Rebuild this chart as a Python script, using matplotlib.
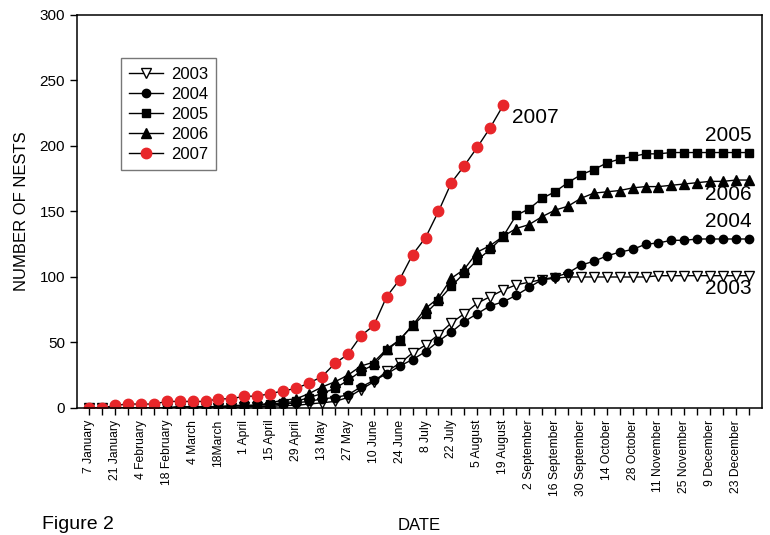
"""
Cumulative number of nests per week, 2003-2007.
"""
import matplotlib
matplotlib.use('Agg')
import matplotlib.pyplot as plt

plt.rcParams['font.family'] = ['Liberation Sans', 'DejaVu Sans']

# tick labels, one every two weeks (weeks numbered from 7 January)
date_labels = ['7 January', '21 January', '4 February', '18 February', '4 March',
               '18March', '1 April', '15 April', '29 April', '13 May', '27 May',
               '10 June', '24 June', '8 July', '22 July', '5 August', '19 August',
               '2 September', '16 September', '30 September', '14 October',
               '28 October', '11 November', '25 November', '9 December',
               '23 December']

nests_2003 = [0, 0, 0, 0, 0, 0, 0, 0, 0, 0, 0, 0, 1, 1, 1, 2, 2, 3, 4, 5,
              8, 14, 20, 28, 34, 42, 48, 56, 65, 72, 80, 85, 90, 94, 96, 98,
              99, 100, 100, 100, 100, 100, 100, 100, 101, 101, 101, 101, 101,
              101, 101, 101]
nests_2004 = [0, 0, 0, 0, 0, 0, 0, 0, 0, 0, 0, 0, 1, 1, 2, 3, 4, 5, 7, 8,
              10, 16, 21, 26, 32, 37, 43, 51, 58, 66, 72, 78, 81, 86, 92, 98,
              100, 103, 109, 112, 116, 119, 121, 125, 126, 128, 128, 129, 129,
              129, 129, 129]
nests_2005 = [0, 0, 0, 0, 0, 0, 0, 1, 1, 1, 1, 1, 2, 2, 3, 4, 5, 8, 11, 15,
              21, 28, 33, 44, 52, 63, 72, 82, 93, 103, 113, 121, 131, 147, 152,
              160, 165, 172, 178, 182, 187, 190, 192, 194, 194, 195, 195, 195,
              195, 195, 195, 195]
nests_2006 = [0, 0, 0, 0, 0, 0, 0, 1, 1, 1, 1, 2, 2, 2, 4, 6, 7, 11, 16, 20,
              25, 32, 35, 45, 52, 63, 76, 84, 99, 106, 119, 124, 131, 137, 140,
              146, 151, 154, 160, 164, 165, 166, 168, 169, 169, 170, 171, 172,
              173, 173, 174, 174]
nests_2007 = [0, 0, 2, 3, 3, 3, 5, 5, 5, 5, 7, 7, 9, 9, 11, 13, 15, 19, 24,
              34, 41, 55, 63, 85, 98, 117, 130, 150, 172, 185, 199, 214, 231]

weeks = list(range(len(nests_2003)))
weeks_2007 = list(range(len(nests_2007)))

fig = plt.figure(figsize=(7.7, 5.35), dpi=100)
ax = fig.add_axes([0.1, 0.2374, 0.8896, 0.7346])

ax.plot(weeks, nests_2003, color='black', lw=1, marker='v', ms=6.5,
        mfc='white', mec='black', mew=1, label='2003')
ax.plot(weeks, nests_2004, color='black', lw=1, marker='o', ms=6,
        mfc='black', mec='black', label='2004')
ax.plot(weeks, nests_2005, color='black', lw=1, marker='s', ms=6,
        mfc='black', mec='black', label='2005')
ax.plot(weeks, nests_2006, color='black', lw=1, marker='^', ms=6.5,
        mfc='black', mec='black', label='2006')
ax.plot(weeks_2007, nests_2007, color='black', lw=1, marker='o', ms=7.5,
        mfc='#e8262a', mec='#e8262a', label='2007')

# year labels next to the curves
ax.text(32.7, 222, '2007', fontsize=15, ha='left', va='center')
ax.text(51.2, 208, '2005', fontsize=15, ha='right', va='center')
ax.text(51.2, 163, '2006', fontsize=15, ha='right', va='center')
ax.text(51.2, 142, '2004', fontsize=15, ha='right', va='center')
ax.text(51.2, 91, '2003', fontsize=15, ha='right', va='center')

ax.set_xlim(-0.93, 52.0)
ax.set_ylim(0, 300)
ax.set_xticks(range(0, 52))
ax.set_xticklabels([date_labels[i // 2] if i % 2 == 0 else '' for i in range(52)],
                   rotation=90, fontsize=8.7)
ax.set_yticks(range(0, 301, 50))
ax.tick_params(axis='both', direction='out', length=5, width=1)
ax.tick_params(axis='y', labelsize=11)
for s in ax.spines.values():
    s.set_linewidth(1.1)

ax.set_ylabel('NUMBER OF NESTS', fontsize=12, labelpad=8)
ax.set_xlabel('DATE', fontsize=12, labelpad=16)

leg = ax.legend(loc='upper left', bbox_to_anchor=(0.064, 0.89), fontsize=12,
                frameon=True, fancybox=False, edgecolor='#555555',
                handlelength=2.0, handletextpad=0.5, labelspacing=0.3,
                borderpad=0.5, borderaxespad=0)
leg.get_frame().set_linewidth(1)

fig.text(0.055, 0.004, 'Figure 2', fontsize=14, va='bottom', ha='left')

plt.savefig('out.png', dpi=100)
